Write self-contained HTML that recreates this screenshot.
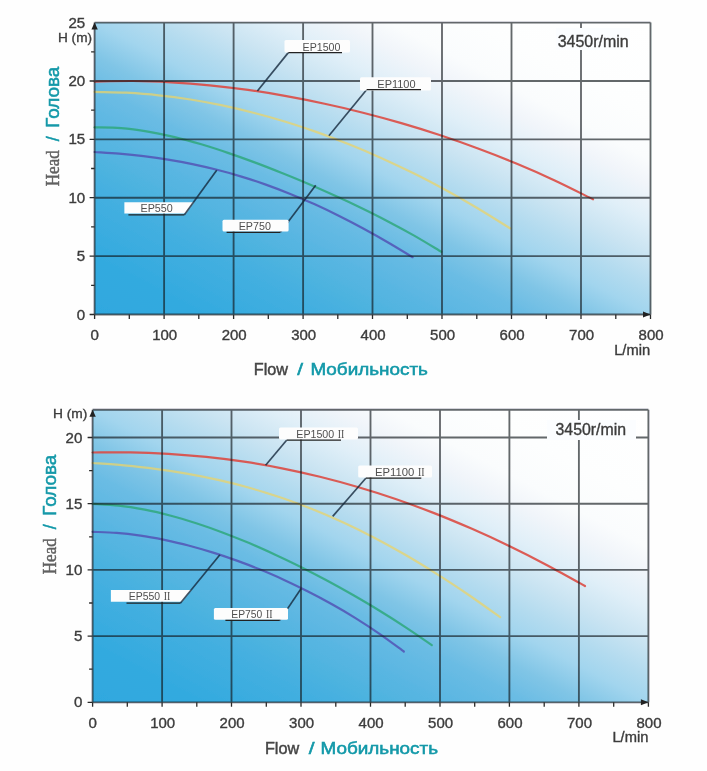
<!DOCTYPE html>
<html lang="ru"><head><meta charset="utf-8"><title>Pump performance curves</title>
<style>
html,body{margin:0;padding:0;background:#fefefe}
svg{display:block;font-family:"Liberation Sans",sans-serif}
</style></head><body>
<svg width="707" height="771" viewBox="0 0 707 771">
<defs>
<linearGradient id="g1" gradientUnits="userSpaceOnUse" x1="252.3" y1="397.2" x2="492.7" y2="-60.2">
<stop offset="0" stop-color="#2fa8df"/><stop offset="0.1" stop-color="#33aadf"/><stop offset="0.226" stop-color="#46b0e0"/><stop offset="0.256" stop-color="#4db3df"/><stop offset="0.32" stop-color="#5ab6e2"/><stop offset="0.39" stop-color="#6abce4"/><stop offset="0.4425" stop-color="#80c5e6"/><stop offset="0.5" stop-color="#a2d5ee"/><stop offset="0.545" stop-color="#b3dbef"/><stop offset="0.6" stop-color="#cae4f2"/><stop offset="0.66" stop-color="#e0eff8"/><stop offset="0.72" stop-color="#f1f5fa"/><stop offset="0.765" stop-color="#fafcfd"/><stop offset="0.84" stop-color="#fdfefe"/><stop offset="1" stop-color="#ffffff"/>
</linearGradient>
<linearGradient id="g2" gradientUnits="userSpaceOnUse" x1="250.3" y1="784.7" x2="490.7" y2="327.3">
<stop offset="0" stop-color="#2fa8df"/><stop offset="0.1" stop-color="#33aadf"/><stop offset="0.226" stop-color="#46b0e0"/><stop offset="0.256" stop-color="#4db3df"/><stop offset="0.32" stop-color="#5ab6e2"/><stop offset="0.39" stop-color="#6abce4"/><stop offset="0.4425" stop-color="#80c5e6"/><stop offset="0.5" stop-color="#a2d5ee"/><stop offset="0.545" stop-color="#b3dbef"/><stop offset="0.6" stop-color="#cae4f2"/><stop offset="0.66" stop-color="#e0eff8"/><stop offset="0.72" stop-color="#f1f5fa"/><stop offset="0.765" stop-color="#fafcfd"/><stop offset="0.84" stop-color="#fdfefe"/><stop offset="1" stop-color="#ffffff"/>
</linearGradient>
<filter id="soft" x="-2%" y="-2%" width="104%" height="104%"><feGaussianBlur stdDeviation="0.55"/></filter>
</defs>
<rect width="707" height="771" fill="#fefefe"/>
<g filter="url(#soft)">
<rect x="94.6" y="22.6" width="555.9" height="291.9" fill="url(#g1)"/>
<path d="M94.6 81.6 C101.0 81.5 120.2 80.9 132.9 81.0 C145.7 81.1 158.5 81.6 171.3 82.3 C184.1 83.0 196.8 84.0 209.6 85.3 C222.4 86.6 235.2 88.1 248.0 89.9 C260.7 91.7 273.5 93.8 286.3 96.1 C299.1 98.4 311.9 100.9 324.6 103.7 C337.4 106.4 350.2 109.4 363.0 112.7 C375.7 115.9 388.5 119.4 401.3 123.1 C414.1 126.8 426.9 130.8 439.6 135.0 C452.4 139.2 465.2 143.7 478.0 148.5 C490.8 153.2 503.5 158.2 516.3 163.6 C529.1 168.9 541.9 174.5 554.7 180.5 C567.4 186.4 586.6 196.2 593.0 199.3" stroke="#dc4b44" stroke-width="2.2" fill="none" stroke-linecap="round" stroke-opacity="0.9"/>
<path d="M94.6 91.9 C99.9 92.1 115.9 92.2 126.6 92.7 C137.2 93.3 147.9 94.1 158.5 95.3 C169.2 96.4 179.8 97.8 190.5 99.5 C201.1 101.2 211.8 103.2 222.4 105.4 C233.1 107.7 243.7 110.2 254.4 113.0 C265.0 115.7 275.7 118.7 286.3 122.0 C297.0 125.3 307.6 128.9 318.3 132.6 C328.9 136.4 339.6 140.5 350.2 144.8 C360.9 149.1 371.5 153.6 382.2 158.4 C392.8 163.2 403.5 168.3 414.1 173.6 C424.8 178.9 435.4 184.5 446.1 190.3 C456.7 196.1 467.4 202.2 478.0 208.5 C488.7 214.9 504.7 225.0 510.0 228.3" stroke="#e9d36a" stroke-width="2.2" fill="none" stroke-linecap="round" stroke-opacity="0.75"/>
<path d="M94.6 127.4 C99.0 127.5 112.4 127.4 121.3 128.1 C130.2 128.8 139.0 130.1 147.9 131.6 C156.8 133.1 165.7 135.0 174.6 137.1 C183.5 139.2 192.4 141.7 201.3 144.3 C210.2 147.0 219.1 149.8 227.9 152.9 C236.8 155.9 245.7 159.1 254.6 162.4 C263.5 165.7 272.4 169.2 281.3 172.8 C290.2 176.3 299.1 180.0 308.0 183.8 C316.8 187.6 325.7 191.5 334.6 195.6 C343.5 199.6 352.4 203.7 361.3 208.0 C370.2 212.3 379.1 216.8 388.0 221.4 C396.9 226.0 405.7 230.8 414.6 235.9 C423.5 241.0 436.9 249.2 441.3 251.8" stroke="#2fa87c" stroke-width="2.2" fill="none" stroke-linecap="round" stroke-opacity="0.85"/>
<path d="M94.6 152.0 C98.7 152.3 110.9 153.0 119.1 153.7 C127.2 154.4 135.4 155.2 143.5 156.2 C151.7 157.2 159.8 158.3 168.0 159.7 C176.1 161.0 184.3 162.5 192.4 164.1 C200.6 165.8 208.8 167.7 216.9 169.8 C225.1 171.8 233.2 174.1 241.4 176.6 C249.5 179.0 257.7 181.7 265.8 184.6 C274.0 187.5 282.1 190.6 290.3 193.9 C298.4 197.2 306.6 200.7 314.8 204.3 C322.9 208.0 331.1 211.9 339.2 216.0 C347.4 220.1 355.5 224.3 363.7 228.8 C371.8 233.2 380.0 237.8 388.1 242.5 C396.3 247.3 408.5 254.7 412.6 257.2" stroke="#5253b5" stroke-width="2.2" fill="none" stroke-linecap="round" stroke-opacity="0.85"/>
<path d="M94.6 22.6V314.5M164.1 22.6V314.5M233.6 22.6V314.5M303.1 22.6V314.5M372.5 22.6V314.5M442.0 22.6V314.5M511.5 22.6V314.5M581.0 22.6V314.5M650.5 22.6V314.5M94.6 314.5H650.5M94.6 256.1H650.5M94.6 197.7H650.5M94.6 139.4H650.5M94.6 81.0H650.5M94.6 22.6H650.5" stroke="#141a1f" stroke-width="1.85" stroke-opacity="0.66" fill="none"/>
<path d="M94.6 314.5v4.5M129.3 314.5v4.5M164.1 314.5v4.5M198.8 314.5v4.5M233.6 314.5v4.5M268.3 314.5v4.5M303.1 314.5v4.5M337.8 314.5v4.5M372.5 314.5v4.5M407.3 314.5v4.5M442.0 314.5v4.5M476.8 314.5v4.5M511.5 314.5v4.5M546.3 314.5v4.5M581.0 314.5v4.5M615.8 314.5v4.5M650.5 314.5v4.5M94.6 314.5h-5M94.6 285.3h-3.5M94.6 256.1h-5M94.6 226.9h-3.5M94.6 197.7h-5M94.6 168.5h-3.5M94.6 139.4h-5M94.6 110.2h-3.5M94.6 81.0h-5M94.6 51.8h-3.5" stroke="#2b2b2b" stroke-width="1.3" fill="none"/>
<path d="M650.5 314.5l-7.5 -3v6z M94.6 22.6l-3.2 7h6.4z" fill="#222"/>
<path d="M288.3 52.6L257.4 91" stroke="#14283c" stroke-width="1.7" stroke-opacity="0.8" fill="none"/>
<path d="M366.6 89.7L328.9 135.7" stroke="#14283c" stroke-width="1.7" stroke-opacity="0.8" fill="none"/>
<path d="M280.3 232.3L315.7 185.3" stroke="#14283c" stroke-width="1.7" stroke-opacity="0.8" fill="none"/>
<rect x="284.5" y="40" width="65.5" height="12.6" rx="1.5" fill="#fdfdfd"/>
<path d="M288.3 52.6H342" stroke="#222" stroke-width="1.2" fill="none"/>
<text x="302.6" y="50.8" font-size="11" fill="#505050" textLength="37.8" lengthAdjust="spacingAndGlyphs">EP1500</text>
<rect x="360" y="77.3" width="71.0" height="13.3" rx="1.5" fill="#fdfdfd"/>
<path d="M366.6 89.7H421" stroke="#222" stroke-width="1.2" fill="none"/>
<text x="377.3" y="88.3" font-size="11" fill="#505050" textLength="38.3" lengthAdjust="spacingAndGlyphs">EP1100</text>
<polygon points="124.4,202.2 194.2,202.2 186,213.6 124.4,213.6" fill="#fdfdfd"/>
<path d="M184.4 214.8L216.7 170.2" stroke="#14283c" stroke-width="1.7" stroke-opacity="0.8" fill="none"/>
<path d="M128.4 214.8H184.4" stroke="#222" stroke-width="1.2" fill="none"/>
<text x="140.5" y="212.2" font-size="11" fill="#505050" textLength="32.3" lengthAdjust="spacingAndGlyphs">EP550</text>
<rect x="222.5" y="219.7" width="66.1" height="11.8" rx="1.5" fill="#fdfdfd"/>
<path d="M226.6 232.3H280.3" stroke="#222" stroke-width="1.2" fill="none"/>
<text x="238.7" y="230.2" font-size="11" fill="#505050" textLength="32.2" lengthAdjust="spacingAndGlyphs">EP750</text>
<rect x="556" y="28" width="74" height="22" fill="#fbfdff"/>
<text x="593.2" y="46.7" font-size="15.8" text-anchor="middle" fill="#3c3c3c" stroke="#3c3c3c" stroke-width="0.35" textLength="71" lengthAdjust="spacingAndGlyphs">3450r/min</text>
<text x="94.6" y="339.6" font-size="13.8" text-anchor="middle" fill="#3c3c3c" stroke="#3c3c3c" stroke-width="0.35" textLength="8.4" lengthAdjust="spacingAndGlyphs">0</text>
<text x="164.7" y="339.6" font-size="13.8" text-anchor="middle" fill="#3c3c3c" stroke="#3c3c3c" stroke-width="0.35" textLength="25" lengthAdjust="spacingAndGlyphs">100</text>
<text x="234.2" y="339.6" font-size="13.8" text-anchor="middle" fill="#3c3c3c" stroke="#3c3c3c" stroke-width="0.35" textLength="25" lengthAdjust="spacingAndGlyphs">200</text>
<text x="303.7" y="339.6" font-size="13.8" text-anchor="middle" fill="#3c3c3c" stroke="#3c3c3c" stroke-width="0.35" textLength="25" lengthAdjust="spacingAndGlyphs">300</text>
<text x="373.1" y="339.6" font-size="13.8" text-anchor="middle" fill="#3c3c3c" stroke="#3c3c3c" stroke-width="0.35" textLength="25" lengthAdjust="spacingAndGlyphs">400</text>
<text x="442.6" y="339.6" font-size="13.8" text-anchor="middle" fill="#3c3c3c" stroke="#3c3c3c" stroke-width="0.35" textLength="25" lengthAdjust="spacingAndGlyphs">500</text>
<text x="512.1" y="339.6" font-size="13.8" text-anchor="middle" fill="#3c3c3c" stroke="#3c3c3c" stroke-width="0.35" textLength="25" lengthAdjust="spacingAndGlyphs">600</text>
<text x="581.6" y="339.6" font-size="13.8" text-anchor="middle" fill="#3c3c3c" stroke="#3c3c3c" stroke-width="0.35" textLength="25" lengthAdjust="spacingAndGlyphs">700</text>
<text x="651.1" y="339.6" font-size="13.8" text-anchor="middle" fill="#3c3c3c" stroke="#3c3c3c" stroke-width="0.35" textLength="25" lengthAdjust="spacingAndGlyphs">800</text>
<text x="650.2" y="354.5" font-size="13.8" text-anchor="end" fill="#3c3c3c" stroke="#3c3c3c" stroke-width="0.35" textLength="36" lengthAdjust="spacingAndGlyphs">L/min</text>
<text x="85.2" y="319.5" font-size="13.8" text-anchor="end" fill="#3c3c3c" stroke="#3c3c3c" stroke-width="0.35" textLength="8.4" lengthAdjust="spacingAndGlyphs">0</text>
<text x="85.2" y="261.1" font-size="13.8" text-anchor="end" fill="#3c3c3c" stroke="#3c3c3c" stroke-width="0.35" textLength="8.4" lengthAdjust="spacingAndGlyphs">5</text>
<text x="85.2" y="202.7" font-size="13.8" text-anchor="end" fill="#3c3c3c" stroke="#3c3c3c" stroke-width="0.35" textLength="16.8" lengthAdjust="spacingAndGlyphs">10</text>
<text x="85.2" y="144.4" font-size="13.8" text-anchor="end" fill="#3c3c3c" stroke="#3c3c3c" stroke-width="0.35" textLength="16.8" lengthAdjust="spacingAndGlyphs">15</text>
<text x="85.2" y="86.0" font-size="13.8" text-anchor="end" fill="#3c3c3c" stroke="#3c3c3c" stroke-width="0.35" textLength="16.8" lengthAdjust="spacingAndGlyphs">20</text>
<text x="85.2" y="27.6" font-size="13.8" text-anchor="end" fill="#3c3c3c" stroke="#3c3c3c" stroke-width="0.35" textLength="16.8" lengthAdjust="spacingAndGlyphs">25</text>
<text x="58" y="42" font-size="13.5" text-anchor="start" fill="#3c3c3c" stroke="#3c3c3c" stroke-width="0.35" textLength="34" lengthAdjust="spacingAndGlyphs">H (m)</text>
<g transform="translate(58.5,186.2) rotate(-90)"><text x="0" y="0" font-size="18" font-family="'Liberation Serif', serif" fill="#606060" stroke="#606060" stroke-width="0.45" textLength="36" lengthAdjust="spacingAndGlyphs">Head</text><text x="44.9" y="0" font-size="19" fill="#1398a8" stroke="#1398a8" stroke-width="0.5" textLength="5" lengthAdjust="spacingAndGlyphs">/</text><text x="58.4" y="0" font-size="19" fill="#1398a8" stroke="#1398a8" stroke-width="0.5" textLength="61" lengthAdjust="spacingAndGlyphs">Голова</text></g>
<text x="253.8" y="374.7" font-size="16.6" fill="#444" stroke="#444" stroke-width="0.45" textLength="34.3" lengthAdjust="spacingAndGlyphs">Flow</text><text x="297.3" y="374.7" font-size="17" fill="#1398a8" stroke="#1398a8" stroke-width="0.55" textLength="5.8" lengthAdjust="spacingAndGlyphs">/</text><text x="310.40000000000003" y="374.7" font-size="17" fill="#1398a8" stroke="#1398a8" stroke-width="0.55" textLength="117.5" lengthAdjust="spacingAndGlyphs">Мобильность</text>
<rect x="92.6" y="409.7" width="555.8" height="292.6" fill="url(#g2)"/>
<path d="M92.6 452.5 C98.9 452.5 117.9 452.1 130.5 452.4 C143.1 452.6 155.7 453.1 168.4 453.8 C181.0 454.6 193.6 455.6 206.2 456.9 C218.9 458.2 231.5 459.8 244.1 461.7 C256.7 463.6 269.4 465.8 282.0 468.3 C294.6 470.8 307.2 473.6 319.9 476.7 C332.5 479.8 345.1 483.2 357.7 487.0 C370.4 490.7 383.0 494.7 395.6 499.0 C408.2 503.3 420.9 508.0 433.5 512.9 C446.1 517.8 458.7 523.1 471.4 528.6 C484.0 534.1 496.6 539.9 509.2 546.0 C521.9 552.1 534.5 558.5 547.1 565.2 C559.7 571.8 578.7 582.5 585.0 586.0" stroke="#dc4b44" stroke-width="2.2" fill="none" stroke-linecap="round" stroke-opacity="0.9"/>
<path d="M92.6 463.0 C97.8 463.4 113.5 464.4 123.9 465.4 C134.4 466.4 144.8 467.5 155.3 468.9 C165.7 470.2 176.2 471.8 186.6 473.6 C197.1 475.4 207.5 477.5 218.0 479.9 C228.4 482.2 238.9 484.8 249.3 487.8 C259.8 490.7 270.2 494.0 280.7 497.5 C291.1 501.1 301.6 504.9 312.0 509.1 C322.5 513.3 332.9 517.8 343.4 522.6 C353.8 527.4 364.3 532.6 374.7 538.0 C385.2 543.5 395.6 549.3 406.1 555.3 C416.5 561.4 427.0 567.7 437.4 574.4 C447.9 581.0 458.3 587.9 468.8 595.0 C479.2 602.2 494.9 613.5 500.1 617.2" stroke="#e9d36a" stroke-width="2.2" fill="none" stroke-linecap="round" stroke-opacity="0.75"/>
<path d="M92.6 503.8 C96.9 504.1 110.0 504.6 118.7 505.6 C127.4 506.5 136.1 508.0 144.8 509.7 C153.5 511.3 162.2 513.4 170.9 515.7 C179.6 518.0 188.3 520.7 197.0 523.5 C205.7 526.3 214.4 529.4 223.1 532.7 C231.8 536.0 240.5 539.5 249.2 543.1 C257.9 546.8 266.5 550.7 275.2 554.7 C283.9 558.7 292.6 562.9 301.3 567.2 C310.0 571.6 318.7 576.1 327.4 580.7 C336.1 585.4 344.8 590.2 353.5 595.2 C362.2 600.2 370.9 605.3 379.6 610.7 C388.3 616.0 397.0 621.5 405.7 627.3 C414.4 633.0 427.5 642.1 431.8 645.1" stroke="#2fa87c" stroke-width="2.2" fill="none" stroke-linecap="round" stroke-opacity="0.85"/>
<path d="M92.6 531.8 C96.6 532.0 108.6 532.3 116.5 532.9 C124.5 533.5 132.5 534.5 140.5 535.7 C148.5 536.8 156.4 538.3 164.4 539.9 C172.4 541.6 180.4 543.4 188.4 545.5 C196.3 547.6 204.3 549.9 212.3 552.4 C220.3 554.9 228.3 557.5 236.2 560.4 C244.2 563.3 252.2 566.3 260.2 569.6 C268.1 572.8 276.1 576.3 284.1 579.9 C292.1 583.6 300.1 587.4 308.0 591.5 C316.0 595.5 324.0 599.8 332.0 604.3 C340.0 608.7 347.9 613.4 355.9 618.4 C363.9 623.4 371.9 628.6 379.9 634.1 C387.8 639.6 399.8 648.6 403.8 651.5" stroke="#5253b5" stroke-width="2.2" fill="none" stroke-linecap="round" stroke-opacity="0.85"/>
<path d="M92.6 409.7V702.3M162.1 409.7V702.3M231.5 409.7V702.3M301.0 409.7V702.3M370.5 409.7V702.3M440.0 409.7V702.3M509.4 409.7V702.3M578.9 409.7V702.3M648.4 409.7V702.3M92.6 702.3H648.4M92.6 636.1H648.4M92.6 569.9H648.4M92.6 503.7H648.4M92.6 437.5H648.4M92.6 409.7H648.4" stroke="#141a1f" stroke-width="1.85" stroke-opacity="0.66" fill="none"/>
<path d="M92.6 702.3v4.5M127.3 702.3v4.5M162.1 702.3v4.5M196.8 702.3v4.5M231.5 702.3v4.5M266.3 702.3v4.5M301.0 702.3v4.5M335.8 702.3v4.5M370.5 702.3v4.5M405.2 702.3v4.5M440.0 702.3v4.5M474.7 702.3v4.5M509.4 702.3v4.5M544.2 702.3v4.5M578.9 702.3v4.5M613.7 702.3v4.5M648.4 702.3v4.5M92.6 702.3h-5M92.6 669.2h-3.5M92.6 636.1h-5M92.6 603.0h-3.5M92.6 569.9h-5M92.6 536.8h-3.5M92.6 503.7h-5M92.6 470.6h-3.5M92.6 437.5h-5" stroke="#2b2b2b" stroke-width="1.3" fill="none"/>
<path d="M648.4 702.3l-7.5 -3v6z M92.6 409.7l-3.2 7h6.4z" fill="#222"/>
<path d="M286.6 440.2L265.6 465.2" stroke="#14283c" stroke-width="1.7" stroke-opacity="0.8" fill="none"/>
<path d="M365.8 478.2L332.7 516.4" stroke="#14283c" stroke-width="1.7" stroke-opacity="0.8" fill="none"/>
<path d="M279.7 620.4L301 588.7" stroke="#14283c" stroke-width="1.7" stroke-opacity="0.8" fill="none"/>
<rect x="279" y="427.6" width="79.0" height="11.8" rx="1.5" fill="#fdfdfd"/>
<path d="M286.6 440.2H341" stroke="#222" stroke-width="1.2" fill="none"/>
<text x="296.3" y="437.8" font-size="11" fill="#505050" textLength="37.9" lengthAdjust="spacingAndGlyphs">EP1500</text>
<text x="337.8" y="437.8" font-size="12.2" font-family="'Liberation Serif', serif" fill="#4a4a4a" textLength="6.6" lengthAdjust="spacingAndGlyphs">II</text>
<rect x="358.2" y="465.5" width="73.8" height="12.1" rx="1.5" fill="#fdfdfd"/>
<path d="M365.8 478.2H421.3" stroke="#222" stroke-width="1.2" fill="none"/>
<text x="375" y="476.4" font-size="11" fill="#505050" textLength="39.4" lengthAdjust="spacingAndGlyphs">EP1100</text>
<text x="418.0" y="476.4" font-size="12.2" font-family="'Liberation Serif', serif" fill="#4a4a4a" textLength="6.6" lengthAdjust="spacingAndGlyphs">II</text>
<polygon points="110.9,590.1 191.6,590.1 182.2,601.7 110.9,601.7" fill="#fdfdfd"/>
<path d="M180.3 603.2L219.9 554.7" stroke="#14283c" stroke-width="1.7" stroke-opacity="0.8" fill="none"/>
<path d="M126.5 603.2H180.3" stroke="#222" stroke-width="1.2" fill="none"/>
<text x="128.7" y="600.3" font-size="11" fill="#505050" textLength="31.4" lengthAdjust="spacingAndGlyphs">EP550</text>
<text x="163.7" y="600.3" font-size="12.2" font-family="'Liberation Serif', serif" fill="#4a4a4a" textLength="6.6" lengthAdjust="spacingAndGlyphs">II</text>
<rect x="213.9" y="608.1" width="74.1" height="11.6" rx="1.5" fill="#fdfdfd"/>
<path d="M225.4 620.4H279.7" stroke="#222" stroke-width="1.2" fill="none"/>
<text x="231.3" y="618" font-size="11" fill="#505050" textLength="31.0" lengthAdjust="spacingAndGlyphs">EP750</text>
<text x="265.9" y="618" font-size="12.2" font-family="'Liberation Serif', serif" fill="#4a4a4a" textLength="6.6" lengthAdjust="spacingAndGlyphs">II</text>
<rect x="547" y="420" width="89" height="20" fill="#fbfdff"/>
<text x="590.8" y="435.3" font-size="15.8" text-anchor="middle" fill="#3c3c3c" stroke="#3c3c3c" stroke-width="0.35" textLength="70.5" lengthAdjust="spacingAndGlyphs">3450r/min</text>
<text x="92.6" y="727.6" font-size="13.8" text-anchor="middle" fill="#3c3c3c" stroke="#3c3c3c" stroke-width="0.35" textLength="8.4" lengthAdjust="spacingAndGlyphs">0</text>
<text x="162.7" y="727.6" font-size="13.8" text-anchor="middle" fill="#3c3c3c" stroke="#3c3c3c" stroke-width="0.35" textLength="25" lengthAdjust="spacingAndGlyphs">100</text>
<text x="232.1" y="727.6" font-size="13.8" text-anchor="middle" fill="#3c3c3c" stroke="#3c3c3c" stroke-width="0.35" textLength="25" lengthAdjust="spacingAndGlyphs">200</text>
<text x="301.6" y="727.6" font-size="13.8" text-anchor="middle" fill="#3c3c3c" stroke="#3c3c3c" stroke-width="0.35" textLength="25" lengthAdjust="spacingAndGlyphs">300</text>
<text x="371.1" y="727.6" font-size="13.8" text-anchor="middle" fill="#3c3c3c" stroke="#3c3c3c" stroke-width="0.35" textLength="25" lengthAdjust="spacingAndGlyphs">400</text>
<text x="440.6" y="727.6" font-size="13.8" text-anchor="middle" fill="#3c3c3c" stroke="#3c3c3c" stroke-width="0.35" textLength="25" lengthAdjust="spacingAndGlyphs">500</text>
<text x="510.0" y="727.6" font-size="13.8" text-anchor="middle" fill="#3c3c3c" stroke="#3c3c3c" stroke-width="0.35" textLength="25" lengthAdjust="spacingAndGlyphs">600</text>
<text x="579.5" y="727.6" font-size="13.8" text-anchor="middle" fill="#3c3c3c" stroke="#3c3c3c" stroke-width="0.35" textLength="25" lengthAdjust="spacingAndGlyphs">700</text>
<text x="649.0" y="727.6" font-size="13.8" text-anchor="middle" fill="#3c3c3c" stroke="#3c3c3c" stroke-width="0.35" textLength="25" lengthAdjust="spacingAndGlyphs">800</text>
<text x="648.4" y="742.4" font-size="13.8" text-anchor="end" fill="#3c3c3c" stroke="#3c3c3c" stroke-width="0.35" textLength="36" lengthAdjust="spacingAndGlyphs">L/min</text>
<text x="82.3" y="707.3" font-size="13.8" text-anchor="end" fill="#3c3c3c" stroke="#3c3c3c" stroke-width="0.35" textLength="8.4" lengthAdjust="spacingAndGlyphs">0</text>
<text x="82.3" y="641.1" font-size="13.8" text-anchor="end" fill="#3c3c3c" stroke="#3c3c3c" stroke-width="0.35" textLength="8.4" lengthAdjust="spacingAndGlyphs">5</text>
<text x="82.3" y="574.9" font-size="13.8" text-anchor="end" fill="#3c3c3c" stroke="#3c3c3c" stroke-width="0.35" textLength="16.8" lengthAdjust="spacingAndGlyphs">10</text>
<text x="82.3" y="508.7" font-size="13.8" text-anchor="end" fill="#3c3c3c" stroke="#3c3c3c" stroke-width="0.35" textLength="16.8" lengthAdjust="spacingAndGlyphs">15</text>
<text x="82.3" y="442.5" font-size="13.8" text-anchor="end" fill="#3c3c3c" stroke="#3c3c3c" stroke-width="0.35" textLength="16.8" lengthAdjust="spacingAndGlyphs">20</text>
<text x="53" y="417.8" font-size="13.2" text-anchor="start" fill="#3c3c3c" stroke="#3c3c3c" stroke-width="0.35" textLength="34.4" lengthAdjust="spacingAndGlyphs">H (m)</text>
<g transform="translate(56.3,574.2) rotate(-90)"><text x="0" y="0" font-size="18" font-family="'Liberation Serif', serif" fill="#606060" stroke="#606060" stroke-width="0.45" textLength="36" lengthAdjust="spacingAndGlyphs">Head</text><text x="44.9" y="0" font-size="19" fill="#1398a8" stroke="#1398a8" stroke-width="0.5" textLength="5" lengthAdjust="spacingAndGlyphs">/</text><text x="58.4" y="0" font-size="19" fill="#1398a8" stroke="#1398a8" stroke-width="0.5" textLength="61" lengthAdjust="spacingAndGlyphs">Голова</text></g>
<text x="264.9" y="753.6" font-size="16.6" fill="#444" stroke="#444" stroke-width="0.45" textLength="34.3" lengthAdjust="spacingAndGlyphs">Flow</text><text x="308.7" y="753.6" font-size="17" fill="#1398a8" stroke="#1398a8" stroke-width="0.55" textLength="5.8" lengthAdjust="spacingAndGlyphs">/</text><text x="320.5" y="753.6" font-size="17" fill="#1398a8" stroke="#1398a8" stroke-width="0.55" textLength="117.5" lengthAdjust="spacingAndGlyphs">Мобильность</text>
</g>
</svg>
</body></html>
